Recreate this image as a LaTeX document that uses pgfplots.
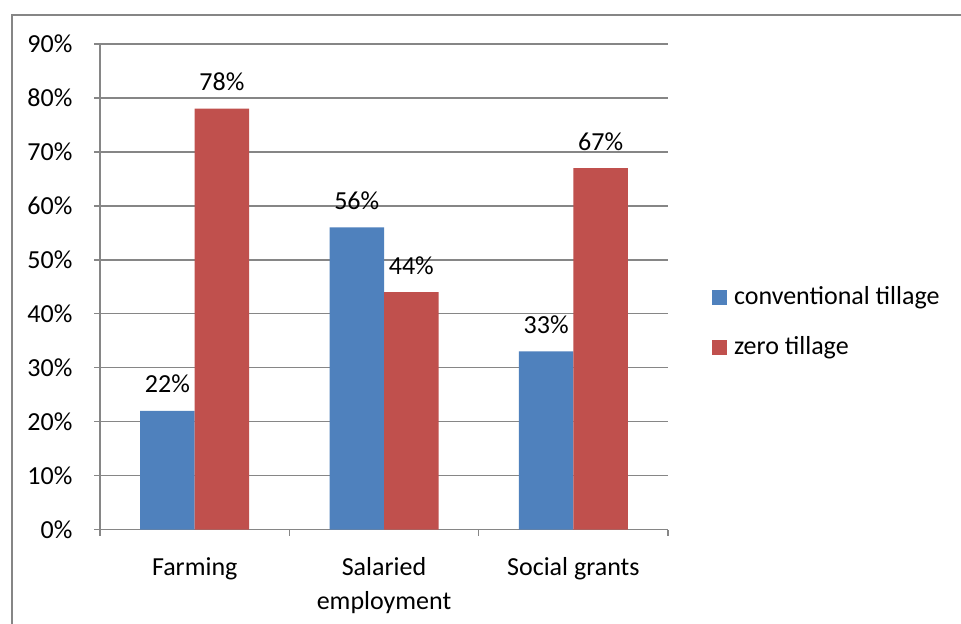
\documentclass[border=0pt]{standalone}
\usepackage{pgfplots}
\pgfplotsset{compat=1.18}
\usepackage{fontspec}
\setmainfont{Carlito}
\definecolor{xblue}{HTML}{4F81BD}
\definecolor{xred}{HTML}{C0504D}
\definecolor{xgrey}{HTML}{868686}
\begin{document}
\fontsize{10.4}{12.5}\selectfont
\begin{tikzpicture}[x=0.4pt,y=0.4pt]
\path[use as bounding box, fill=white] (0,0) rectangle (961,623);
\draw[xgrey, line width=0.9pt] (12,-10) -- (12,608) -- (975,608);
\begin{axis}[
  at={(77.88pt,37.4pt)}, anchor=origin,
  scale only axis,
  width=227.2pt, height=194.2pt,
  ybar=0pt, bar width=21.8pt,
  xmin=-0.5, xmax=2.5, ymin=0, ymax=90,
  xtick={0,1,2},
  xticklabels={Farming,{Salaried\\employment},{Social grants}},
  minor xtick={-0.5,0.5,1.5,2.5},
  ytick={0,10,...,90},
  yticklabel={\pgfmathprintnumber{\tick}\%},
  /pgf/number format/assume math mode=true,
  axis x line*=bottom, axis y line*=left,
  axis line style={xgrey, line width=0.6pt},
  every tick/.style={xgrey, line width=0.6pt},
  tick align=outside,
  major tick length=2.4pt, minor tick length=2.4pt,
  major x tick style={draw=none},
  ymajorgrids, grid style={xgrey, line width=0.6pt},
  xticklabel style={align=center, font=\fontsize{10.4}{13.6}\selectfont, yshift=-5pt},
  yticklabel style={font=\fontsize{10.4}{12.5}\selectfont, xshift=-5pt},
  nodes near coords={\pgfmathprintnumber{\pgfplotspointmeta}\%},
  every node near coord/.append style={font=\fontsize{10.4}{12.5}\selectfont, black, anchor=south, yshift=3.4pt},
  legend style={at={(1.0757,0.4264)}, anchor=west, draw=none, fill=none, inner sep=0pt,
    font=\fontsize{10.4}{12.5}\selectfont, row sep=9.4pt, column sep=2pt,
    nodes={inner sep=1pt, anchor=west}},
  legend image code/.code={\fill[#1] (0pt,-3pt) rectangle (6pt,3pt);},
  legend cell align=left,
]
\addplot[fill=xblue, draw=none] coordinates {(0,22) (1,56) (2,33)};
\addplot[fill=xred, draw=none] coordinates {(0,78) (1,44) (2,67)};
\legend{conventional tillage, zero tillage}
\end{axis}
\end{tikzpicture}
\end{document}
